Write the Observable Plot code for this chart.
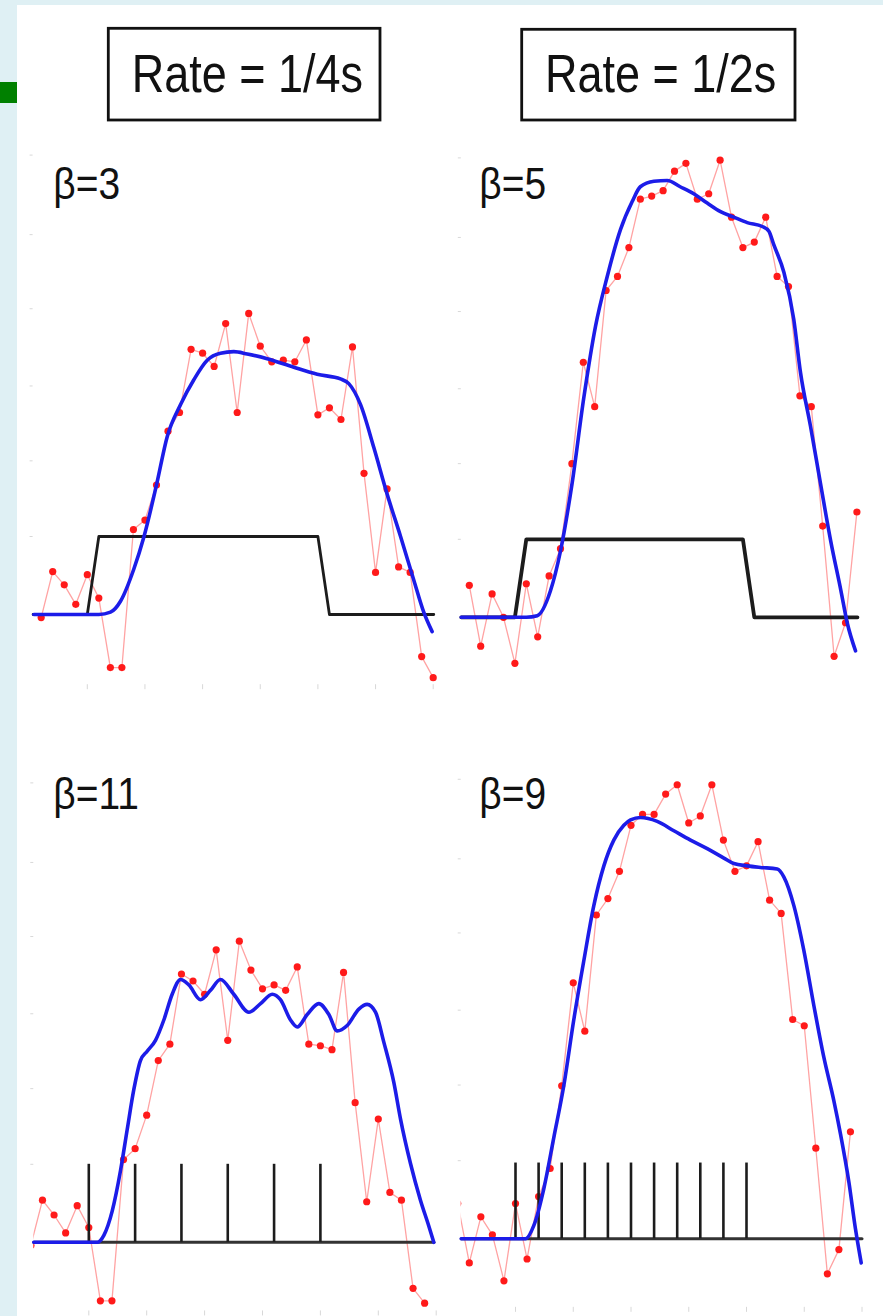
<!DOCTYPE html>
<html>
<head>
<meta charset="utf-8">
<script src="https://cdn.jsdelivr.net/npm/d3@7"></script>
<script src="https://cdn.jsdelivr.net/npm/@observablehq/plot@0.6"></script>
<style>
html, body { margin: 0; padding: 0; background: #dff0f4; }
#page { position: relative; width: 883px; height: 1316px; background: #dff0f4; overflow: hidden; }
#sheet { position: absolute; left: 17px; top: 5px; right: 0; bottom: 0; background: #ffffff; }
#green { position: absolute; left: 0; top: 82px; width: 17px; height: 21px; background: #008000; }
.panel { position: absolute; }
#overlay { position: absolute; left: 0; top: 0; }
</style>
</head>
<body>
<div id="page">
  <div id="sheet"></div>
  <div id="green"></div>
</div>
<script>
// ---------- data (time in seconds relative to stimulus onset; response in stimulus units) ----------
const titles = ["Rate = 1/4s", "Rate = 1/2s"];
const betaLabels = ["β=3", "β=5", "β=11", "β=9"];

const yTickValues = [1, 1.97, 2.93, 3.92, 4.87, 5.89];
const xTickValues = [0, 5, 10, 15, 20, 25, 30];

// observed responses (red dots)
const secTop = [-4,-3,-2,-1,0,1,2,3,4,5,6,7,8,9,10,11,12,13,14,15,16,17,18,19,20,21,22,23,24,25,26,27,28,29,30];
const secBottom = [-5,-4,-3,-2,-1,0,1,2,3,4,5,6,7,8,9,10,11,12,13,14,15,16,17,18,19,20,21,22,23,24,25,26,27,28,29];

const obsBeta3 = [-0.04,0.55,0.38,0.13,0.51,0.21,-0.68,-0.68,1.09,1.21,1.66,2.35,2.59,3.40,3.35,3.18,3.73,2.59,3.86,3.44,3.24,3.26,3.24,3.52,2.56,2.65,2.50,3.43,1.81,0.54,1.61,0.61,0.54,-0.54,-0.81];
const obsBeta5 = [0.41,-0.37,0.30,0.00,-0.59,0.43,-0.25,0.53,0.88,1.97,3.27,2.70,4.19,4.37,4.74,5.36,5.40,5.47,5.72,5.82,5.36,5.43,5.86,5.13,4.74,4.81,5.13,4.37,4.24,2.84,2.70,1.17,-0.50,-0.07,1.35];
const obsBeta11 = [-0.04,0.54,0.35,0.12,0.47,0.19,-0.75,-0.75,1.06,1.20,1.63,2.33,2.54,3.44,3.35,3.18,3.75,2.59,3.86,3.49,3.25,3.30,3.23,3.53,2.54,2.52,2.47,3.46,1.79,0.52,1.58,0.64,0.54,-0.59,-0.78];
const obsBeta9 = [0.45,-0.31,0.28,0.05,-0.54,0.45,-0.26,0.54,0.90,1.96,3.28,2.66,4.15,4.36,4.71,5.30,5.44,5.44,5.70,5.82,5.33,5.42,5.82,5.11,4.71,4.78,5.09,4.34,4.17,2.81,2.73,1.16,-0.45,-0.14,1.37];

// model fits (blue curves)
const fitT3 = [-4.64,1.0,2.01,2.88,4.03,4.9,6.0,6.93,8.08,9.24,10.4,11.55,12.71,13.87,15.6,17.91,19.94,21.96,22.68,23.7,24.85,26.01,27.17,28.32,29.18,29.91];
const fitV3 = [0,0,0.03,0.17,0.58,0.99,1.66,2.28,2.69,3.01,3.26,3.35,3.37,3.34,3.28,3.17,3.08,3.02,2.96,2.69,2.14,1.54,1.0,0.44,0.03,-0.22];
const fitT5 = [-4.71,1.0,1.96,3.12,4.0,5.02,6.05,7.07,8.1,9.26,10.29,11.0,12.2,13.36,14.5,15.69,16.87,18.04,19.2,20.38,21.7,22.28,22.7,23.6,24.46,25.05,25.93,26.8,27.7,28.6,29.15,29.88];
const fitV5 = [0,0,0.02,0.34,0.85,1.72,2.82,3.73,4.37,4.97,5.33,5.52,5.59,5.60,5.52,5.43,5.31,5.20,5.13,5.06,5.01,4.95,4.78,4.42,3.82,3.14,2.45,1.72,0.98,0.34,-0.07,-0.43];
const fitT11 = [-4.75,0.72,1.3,2.02,2.74,3.31,3.89,4.46,5.04,5.76,6.48,7.2,7.92,8.64,9.65,10.51,11.37,12.52,13.82,14.83,15.84,16.55,17.42,18.0,18.86,19.86,20.73,21.45,22.31,23.32,24.04,24.76,25.47,26.34,26.92,27.78,28.64,29.36,29.79];
const fitV11 = [0,0,0.09,0.40,0.92,1.44,1.96,2.33,2.45,2.59,2.85,3.18,3.37,3.30,3.11,3.23,3.37,3.18,2.95,3.06,3.18,3.11,2.85,2.76,2.92,3.06,2.92,2.71,2.78,2.99,3.05,2.95,2.57,2.05,1.58,1.01,0.54,0.21,0];
const fitT9 = [-4.7,0.87,1.59,2.45,3.32,4.18,5.05,5.91,6.78,7.65,8.51,9.38,9.96,10.82,12.27,13.71,15.15,16.6,18.04,18.9,20.06,21.21,22.66,23.23,24.1,24.96,25.83,26.69,27.56,28.14,28.86,29.44,29.93];
const fitV9 = [0,0,0.17,0.64,1.30,1.96,2.81,3.56,4.27,4.78,5.11,5.30,5.37,5.40,5.35,5.23,5.11,5.00,4.88,4.81,4.78,4.76,4.74,4.64,4.27,3.70,2.99,2.33,1.77,1.34,0.73,0.12,-0.31];

// stimuli (black)
const stimT = [-4.7, 0, 1, 20, 21, 30.05];
const stimV = [0, 0, 1, 1, 0, 0];
const spikes4s = [0, 4, 8, 12, 16, 20];
const spikes2s = [0, 2, 4, 6, 8, 10, 12, 14, 16, 18, 20];
const spikeHeight4s = 1.0;
const spikeHeight2s = 0.97;
const baseSpanBottomLeft = [-4.75, 29.8];
const baseSpanBottomRight = [-4.7, 30.0];

// ---------- helpers ----------
const zip = (a, b) => a.map((t, i) => ({t, v: b[i]}));
const page = document.getElementById("page");

const RED = "#ff1a1a", PINK = "#ffa3a3", BLUE = "#1c1ce8", BLACK = "#1c1c1c", FAINT = "#d8d8d8";

function addPanel(cfg, stimMarks, obsT, obsV, fitT, fitV, clip, xTicks) {
  const {left, top, width, height, t0px, pxs, base, k, xdom, ydom} = cfg;
  const obs = zip(obsT, obsV);
  const fit = zip(fitT, fitV);
  const plot = Plot.plot({
    width, height,
    marginLeft: t0px + xdom[0] * pxs - left,
    marginRight: left + width - (t0px + xdom[1] * pxs),
    marginTop: (base - ydom[1] * k) - top,
    marginBottom: top + height - (base - ydom[0] * k),
    x: {domain: xdom},
    y: {domain: ydom},
    style: {background: "transparent", overflow: "visible"},
    marks: [
      Plot.axisY(yTickValues, {anchor: "left", tickSize: 3, stroke: FAINT, tickFormat: () => "", label: null}),
      Plot.axisX(xTicks, {anchor: "bottom", tickSize: 5, stroke: FAINT, tickFormat: () => "", label: null}),
      Plot.line(obs, {x: "t", y: "v", stroke: PINK, strokeWidth: 1.3, clip}),
      Plot.dot(obs, {x: "t", y: "v", r: 3.6, fill: RED, stroke: "none", clip}),
      ...stimMarks,
      Plot.line(fit, {x: "t", y: "v", stroke: BLUE, strokeWidth: 3.6, curve: "monotone-x"})
    ]
  });
  plot.classList.add("panel");
  plot.style.left = left + "px";
  plot.style.top = top + "px";
  page.appendChild(plot);
}

const stimStep = (w) => [Plot.line(zip(stimT, stimV), {x: "t", y: "v", stroke: BLACK, strokeWidth: w})];
const stimSpikes = (times, h, span) => [
  Plot.line(zip(span, [0, 0]), {x: "t", y: "v", stroke: "#333", strokeWidth: 3}),
  Plot.ruleX(times, {x: d => d, y1: 0, y2: h, stroke: BLACK, strokeWidth: 2.6})
];

addPanel({left: 20, top: 120, width: 430, height: 600, t0px: 86.8, pxs: 11.53, base: 614, k: 78, xdom: [-4.7, 30.1], ydom: [-0.9, 6.2]},
  stimStep(2.8), secTop, obsBeta3, fitT3, fitV3, false, xTickValues);
addPanel({left: 450, top: 120, width: 433, height: 600, t0px: 514.4, pxs: 11.4, base: 616.8, k: 78, xdom: [-4.7, 30.1], ydom: [-0.9, 6.2]},
  stimStep(3.8), secTop, obsBeta5, fitT5, fitV5, false, []);
addPanel({left: 20, top: 740, width: 430, height: 576, t0px: 88.3, pxs: 11.58, base: 1241.8, k: 78, xdom: [-4.75, 30.0], ydom: [-0.88, 6.2]},
  stimSpikes(spikes4s, spikeHeight4s, baseSpanBottomLeft), secBottom, obsBeta11, fitT11, fitV11, true, xTickValues);
addPanel({left: 450, top: 740, width: 433, height: 576, t0px: 515, pxs: 11.55, base: 1238.2, k: 78, xdom: [-4.7, 30.2], ydom: [-0.88, 6.2]},
  stimSpikes(spikes2s, spikeHeight2s, baseSpanBottomRight), secBottom, obsBeta9, fitT9, fitV9, true, xTickValues);

// ---------- titles and labels ----------
const svg = d3.select(page).append("svg").attr("id", "overlay").attr("width", 883).attr("height", 1316)
  .style("pointer-events", "none")
  .style("font-family", "'Liberation Sans', Arial, sans-serif");

const boxes = [
  {x: 108.3, y: 28.3, w: 271.7, h: 91.7, tx: 131.7, ty: 91.7},
  {x: 521.7, y: 29.3, w: 273.3, h: 90.7, tx: 545, ty: 91.7}
];
boxes.forEach((b, i) => {
  svg.append("rect").attr("x", b.x).attr("y", b.y).attr("width", b.w).attr("height", b.h)
    .attr("fill", "#fff").attr("stroke", "#111").attr("stroke-width", 2.8);
  svg.append("text").attr("transform", `translate(${b.tx},${b.ty}) scale(1,1.2)`)
    .attr("font-size", 45).attr("fill", "#111").text(titles[i]);
});
const labelPos = [[53.3, 199.3], [479.3, 199.3], [53.3, 809.3], [479.3, 809.3]];
labelPos.forEach(([x, y], i) => {
  svg.append("text").attr("transform", `translate(${x},${y}) scale(1,1.12)`)
    .attr("font-size", 39).attr("fill", "#111").text(betaLabels[i]);
});
</script>
</body>
</html>
